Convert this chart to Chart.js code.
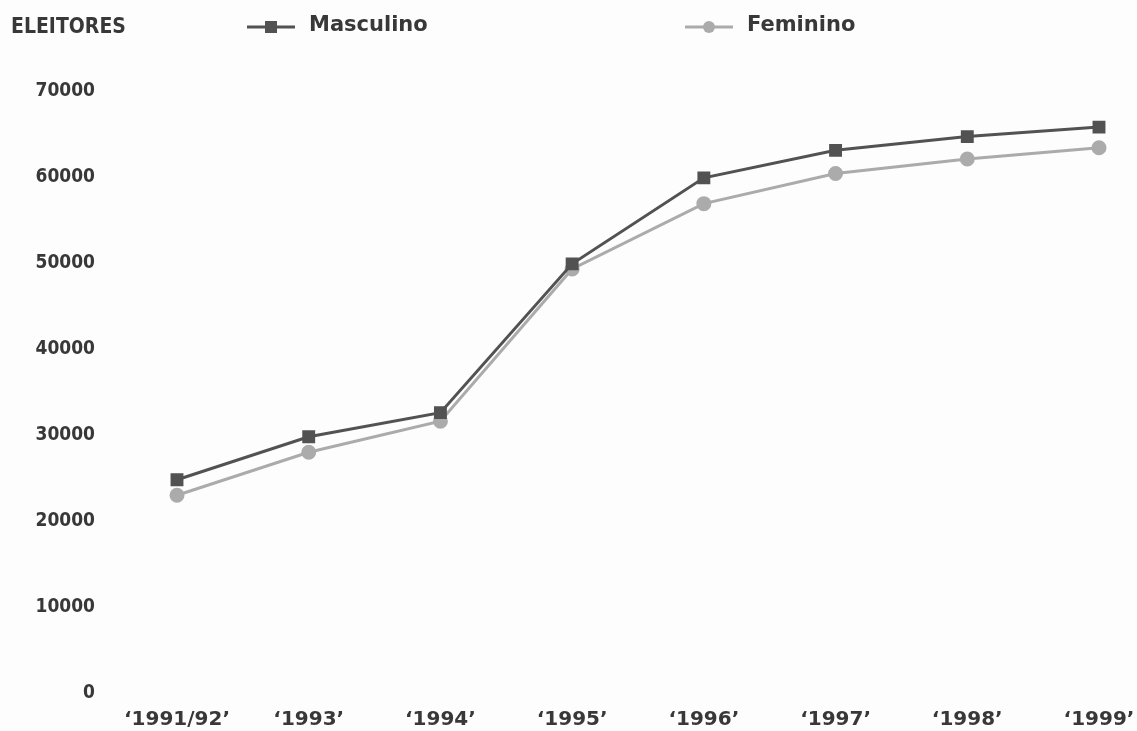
<!DOCTYPE html>
<html>
<head>
<meta charset="utf-8">
<script src="https://cdn.jsdelivr.net/npm/chart.js@4/dist/chart.umd.min.js"></script>
<style>
  html, body { margin: 0; padding: 0; background: #fdfdfd; }
</style>
</head>
<body>
<canvas id="myChart" width="1137" height="731"></canvas>
<script>
const years = ["\u20181991/92\u2019", "\u20181993\u2019", "\u20181994\u2019", "\u20181995\u2019",
  "\u20181996\u2019", "\u20181997\u2019", "\u20181998\u2019", "\u20181999\u2019"];
const masculino = [24800, 29800, 32600, 49900, 59900, 63100, 64700, 65800];
const feminino = [23000, 28000, 31600, 49300, 56900, 60400, 62100, 63400];
const yTicks = [0, 10000, 20000, 30000, 40000, 50000, 60000, 70000];

const darkGray = "#525252";
const lightGray = "#ababab";
const textColor = "#383838";
const fontFamily = "'DejaVu Sans', sans-serif";
const condFamily = "'DejaVu Sans Condensed', 'DejaVu Sans', sans-serif";

// header: axis title + legend at fixed spots like the original
const headerPlugin = {
  id: "header",
  afterDraw(chart) {
    const c = chart.ctx;
    c.save();
    c.fillStyle = textColor;
    c.textBaseline = "middle";
    c.font = "bold 21px " + condFamily;
    c.fillText("ELEITORES", 11, 28);

    const items = [
      { x: 247, text: "Masculino", color: darkGray, style: "rect" },
      { x: 685, text: "Feminino", color: lightGray, style: "circle" },
    ];
    items.forEach((it) => {
      c.strokeStyle = it.color;
      c.lineWidth = 3;
      c.beginPath();
      c.moveTo(it.x, 27);
      c.lineTo(it.x + 48, 27);
      c.stroke();
      c.fillStyle = it.color;
      if (it.style === "rect") {
        c.fillRect(it.x + 18, 21, 12, 12);
      } else {
        c.beginPath();
        c.arc(it.x + 24, 27, 6, 0, Math.PI * 2);
        c.fill();
      }
      c.fillStyle = textColor;
      c.font = "bold 21px " + fontFamily;
      c.fillText(it.text, it.x + 62, 26);
    });
    c.restore();
  },
};

const ctx = document.getElementById("myChart").getContext("2d");
new Chart(ctx, {
  type: "line",
  data: {
    labels: years,
    datasets: [
      {
        label: "Masculino",
        data: masculino,
        borderColor: darkGray,
        backgroundColor: darkGray,
        borderWidth: 3,
        pointStyle: "rect",
        pointRadius: 7,
        tension: 0,
      },
      {
        label: "Feminino",
        data: feminino,
        borderColor: lightGray,
        backgroundColor: lightGray,
        borderWidth: 3,
        pointStyle: "circle",
        pointRadius: 6,
        tension: 0,
      },
    ],
  },
  options: {
    responsive: false,
    animation: false,
    layout: { padding: { top: 91, right: 38, left: 0, bottom: 0 } },
    plugins: {
      legend: { display: false },
      tooltip: { enabled: false },
    },
    scales: {
      x: {
        offset: false,
        grid: { display: false, drawTicks: false },
        border: { display: false },
        ticks: {
          color: textColor,
          padding: 15,
          maxRotation: 0,
          font: { family: fontFamily, size: 20, weight: "bold" },
        },
        afterFit(scale) {
          scale.height = 38;
          scale.paddingLeft = 0;
          scale.paddingRight = 0;
        },
      },
      y: {
        min: 0,
        max: 70000,
        grid: { display: false, drawTicks: false },
        border: { display: false },
        afterBuildTicks(scale) { scale.ticks = yTicks.map((v) => ({ value: v })); },
        ticks: {
          color: textColor,
          padding: 82,
          callback: (v) => String(v),
          font: { family: condFamily, size: 19, weight: "bold" },
        },
        afterFit(scale) {
          scale.width = 177;
          scale.paddingTop = 0;
          scale.paddingBottom = 0;
        },
      },
    },
  },
  plugins: [headerPlugin],
});
</script>
</body>
</html>
